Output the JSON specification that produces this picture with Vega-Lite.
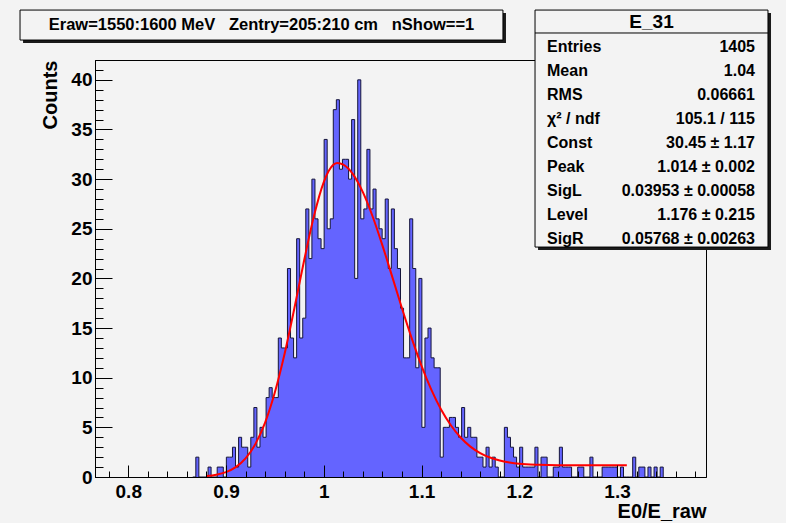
{
  "$schema": "https://vega.github.io/schema/vega-lite/v6.json",
  "width": 611,
  "height": 417,
  "autosize": {"type": "none"},
  "padding": {"left": 95, "top": 60, "right": 80, "bottom": 46},
  "background": "#f3f3f3",
  "config": {
    "font": "Liberation Sans",
    "view": {"stroke": "#000000", "strokeWidth": 1},
    "text": {"font": "Liberation Sans"}
  },
  "datasets": {
    "hist": [
      {"lo": 0.866, "n": 0}, {"lo": 0.869125, "n": 2}, {"lo": 0.87225, "n": 0}, {"lo": 0.875375, "n": 0}, {"lo": 0.8785, "n": 0},
      {"lo": 0.881625, "n": 1}, {"lo": 0.88475, "n": 0}, {"lo": 0.887875, "n": 0}, {"lo": 0.891, "n": 1}, {"lo": 0.894125, "n": 1},
      {"lo": 0.89725, "n": 0}, {"lo": 0.900375, "n": 2}, {"lo": 0.9035, "n": 2}, {"lo": 0.906625, "n": 3}, {"lo": 0.90975, "n": 1},
      {"lo": 0.912875, "n": 4}, {"lo": 0.916, "n": 3}, {"lo": 0.919125, "n": 3}, {"lo": 0.92225, "n": 1}, {"lo": 0.925375, "n": 4},
      {"lo": 0.9285, "n": 7}, {"lo": 0.931625, "n": 3}, {"lo": 0.93475, "n": 5}, {"lo": 0.937875, "n": 4}, {"lo": 0.941, "n": 8},
      {"lo": 0.944125, "n": 9}, {"lo": 0.94725, "n": 8}, {"lo": 0.950375, "n": 8}, {"lo": 0.9535, "n": 14}, {"lo": 0.956625, "n": 13},
      {"lo": 0.95975, "n": 13}, {"lo": 0.962875, "n": 21}, {"lo": 0.966, "n": 14}, {"lo": 0.969125, "n": 12}, {"lo": 0.97225, "n": 24},
      {"lo": 0.975375, "n": 14}, {"lo": 0.9785, "n": 16}, {"lo": 0.981625, "n": 27}, {"lo": 0.98475, "n": 22}, {"lo": 0.987875, "n": 30},
      {"lo": 0.991, "n": 26}, {"lo": 0.994125, "n": 24}, {"lo": 0.99725, "n": 23}, {"lo": 1.000375, "n": 34}, {"lo": 1.0035, "n": 25},
      {"lo": 1.006625, "n": 26}, {"lo": 1.00975, "n": 37}, {"lo": 1.012875, "n": 38}, {"lo": 1.016, "n": 31}, {"lo": 1.019125, "n": 32},
      {"lo": 1.02225, "n": 32}, {"lo": 1.025375, "n": 30}, {"lo": 1.0285, "n": 36}, {"lo": 1.031625, "n": 20}, {"lo": 1.03475, "n": 40},
      {"lo": 1.037875, "n": 26}, {"lo": 1.041, "n": 27}, {"lo": 1.044125, "n": 33}, {"lo": 1.04725, "n": 27}, {"lo": 1.050375, "n": 29},
      {"lo": 1.0535, "n": 26}, {"lo": 1.056625, "n": 25}, {"lo": 1.05975, "n": 24}, {"lo": 1.062875, "n": 28}, {"lo": 1.066, "n": 21},
      {"lo": 1.069125, "n": 27}, {"lo": 1.07225, "n": 23}, {"lo": 1.075375, "n": 21}, {"lo": 1.0785, "n": 17}, {"lo": 1.081625, "n": 12},
      {"lo": 1.08475, "n": 12}, {"lo": 1.087875, "n": 26}, {"lo": 1.091, "n": 21}, {"lo": 1.094125, "n": 11}, {"lo": 1.09725, "n": 20},
      {"lo": 1.100375, "n": 5}, {"lo": 1.1035, "n": 14}, {"lo": 1.106625, "n": 15}, {"lo": 1.10975, "n": 12}, {"lo": 1.112875, "n": 11},
      {"lo": 1.116, "n": 11}, {"lo": 1.119125, "n": 2}, {"lo": 1.12225, "n": 5}, {"lo": 1.125375, "n": 5}, {"lo": 1.1285, "n": 6},
      {"lo": 1.131625, "n": 6}, {"lo": 1.13475, "n": 5}, {"lo": 1.137875, "n": 4}, {"lo": 1.141, "n": 7}, {"lo": 1.144125, "n": 4},
      {"lo": 1.14725, "n": 5}, {"lo": 1.150375, "n": 4}, {"lo": 1.1535, "n": 4}, {"lo": 1.156625, "n": 2}, {"lo": 1.15975, "n": 2},
      {"lo": 1.162875, "n": 1}, {"lo": 1.166, "n": 3}, {"lo": 1.169125, "n": 1}, {"lo": 1.17225, "n": 2}, {"lo": 1.175375, "n": 1},
      {"lo": 1.1785, "n": 0}, {"lo": 1.181625, "n": 0}, {"lo": 1.18475, "n": 5}, {"lo": 1.187875, "n": 4}, {"lo": 1.191, "n": 3},
      {"lo": 1.194125, "n": 2}, {"lo": 1.19725, "n": 1}, {"lo": 1.200375, "n": 3}, {"lo": 1.2035, "n": 1}, {"lo": 1.206625, "n": 1},
      {"lo": 1.20975, "n": 1}, {"lo": 1.212875, "n": 1}, {"lo": 1.216, "n": 3}, {"lo": 1.219125, "n": 0}, {"lo": 1.22225, "n": 2},
      {"lo": 1.225375, "n": 2}, {"lo": 1.2285, "n": 0}, {"lo": 1.231625, "n": 0}, {"lo": 1.23475, "n": 1}, {"lo": 1.237875, "n": 1},
      {"lo": 1.241, "n": 3}, {"lo": 1.244125, "n": 1}, {"lo": 1.24725, "n": 1}, {"lo": 1.250375, "n": 1}, {"lo": 1.2535, "n": 0},
      {"lo": 1.256625, "n": 0}, {"lo": 1.25975, "n": 1}, {"lo": 1.262875, "n": 1}, {"lo": 1.266, "n": 0}, {"lo": 1.269125, "n": 0},
      {"lo": 1.27225, "n": 2}, {"lo": 1.275375, "n": 0}, {"lo": 1.2785, "n": 0}, {"lo": 1.281625, "n": 0}, {"lo": 1.28475, "n": 1},
      {"lo": 1.287875, "n": 1}, {"lo": 1.291, "n": 1}, {"lo": 1.294125, "n": 1}, {"lo": 1.29725, "n": 1}, {"lo": 1.300375, "n": 0},
      {"lo": 1.3035, "n": 1}, {"lo": 1.306625, "n": 0}, {"lo": 1.30975, "n": 0}, {"lo": 1.312875, "n": 0}, {"lo": 1.316, "n": 2},
      {"lo": 1.319125, "n": 0}, {"lo": 1.32225, "n": 1}, {"lo": 1.325375, "n": 1}, {"lo": 1.3285, "n": 0}, {"lo": 1.331625, "n": 1},
      {"lo": 1.33475, "n": 0}, {"lo": 1.337875, "n": 1}, {"lo": 1.341, "n": 0}, {"lo": 1.344125, "n": 1}, {"lo": 1.34725, "n": 0}
    ],
    "fit": [
      {"x": 0.88, "f": 0.10}, {"x": 0.89, "f": 0.23}, {"x": 0.90, "f": 0.49}, {"x": 0.91, "f": 0.99}, {"x": 0.92, "f": 1.87},
      {"x": 0.93, "f": 3.31}, {"x": 0.94, "f": 5.48}, {"x": 0.95, "f": 8.53}, {"x": 0.96, "f": 12.44}, {"x": 0.97, "f": 17.02},
      {"x": 0.98, "f": 21.85}, {"x": 0.99, "f": 26.30}, {"x": 1.00, "f": 29.70}, {"x": 1.005, "f": 30.82}, {"x": 1.01, "f": 31.46},
      {"x": 1.014, "f": 31.63}, {"x": 1.02, "f": 31.46}, {"x": 1.03, "f": 30.48}, {"x": 1.04, "f": 28.69}, {"x": 1.05, "f": 26.24},
      {"x": 1.06, "f": 23.33}, {"x": 1.07, "f": 20.18}, {"x": 1.08, "f": 17.00}, {"x": 1.09, "f": 13.96}, {"x": 1.10, "f": 11.20},
      {"x": 1.11, "f": 8.80}, {"x": 1.12, "f": 6.80}, {"x": 1.13, "f": 5.21}, {"x": 1.14, "f": 3.98}, {"x": 1.15, "f": 3.06},
      {"x": 1.16, "f": 2.41}, {"x": 1.17, "f": 1.96}, {"x": 1.18, "f": 1.66}, {"x": 1.19, "f": 1.47}, {"x": 1.20, "f": 1.34},
      {"x": 1.22, "f": 1.23}, {"x": 1.24, "f": 1.19}, {"x": 1.27, "f": 1.18}, {"x": 1.31, "f": 1.18}
    ],
    "stats": [
      {"label": "Entries", "value": "1405"},
      {"label": "Mean", "value": "1.04"},
      {"label": "RMS", "value": "0.06661"},
      {"label": "χ² / ndf", "value": "105.1 / 115"},
      {"label": "Const", "value": "30.45 ± 1.17"},
      {"label": "Peak", "value": "1.014 ± 0.002"},
      {"label": "SigL", "value": "0.03953 ± 0.00058"},
      {"label": "Level", "value": "1.176 ± 0.215"},
      {"label": "SigR", "value": "0.05768 ± 0.00263"}
    ]
  },
  "layer": [
    {
      "resolve": {"axis": {"x": "independent", "y": "independent"}},
      "layer": [
        {
          "data": {"name": "hist"},
          "mark": {"type": "area", "interpolate": "step-after", "color": "#6464ff"},
          "encoding": {
            "x": {
              "field": "lo", "type": "quantitative",
              "scale": {"domain": [0.766, 1.391], "nice": false, "zero": false},
              "axis": {
                "orient": "bottom",
                "title": "E0/E_raw",
                "titleAnchor": "end",
                "titleFont": "Liberation Sans", "titleFontSize": 20, "titleFontWeight": "bold", "titleColor": "#000",
                "titlePadding": 0,
                "values": [0.8, 0.9, 1.0, 1.1, 1.2, 1.3],
                "labelExpr": "format(datum.value, '.2~f')",
                "labelFont": "Liberation Sans", "labelFontSize": 19, "labelFontWeight": "bold", "labelColor": "#000",
                "labelOverlap": false, "labelFlush": false, "labelBound": false,
                "labelPadding": 17,
                "tickSize": -12,
                "tickColor": "#000", "tickWidth": 1,
                "domainColor": "#000", "domainWidth": 1,
                "grid": false, "zindex": 1
              }
            },
            "y": {
              "field": "n", "type": "quantitative",
              "scale": {"domain": [0, 42], "nice": false},
              "axis": {
                "orient": "left",
                "title": "Counts",
                "titleAnchor": "end",
                "titleFont": "Liberation Sans", "titleFontSize": 20, "titleFontWeight": "bold", "titleColor": "#000",
                "titlePadding": 10,
                "values": [0, 5, 10, 15, 20, 25, 30, 35, 40],
                "format": "d",
                "labelFont": "Liberation Sans", "labelFontSize": 19, "labelFontWeight": "bold", "labelColor": "#000",
                "labelOverlap": false, "labelFlush": false, "labelBound": false,
                "labelPadding": 20,
                "tickSize": -17,
                "tickColor": "#000", "tickWidth": 1,
                "domainColor": "#000", "domainWidth": 1,
                "grid": false, "zindex": 1
              }
            }
          }
        },
        {
          "data": {"name": "hist"},
          "mark": {"type": "line", "interpolate": "step-after", "color": "#15153a", "strokeWidth": 1},
          "encoding": {
            "x": {"field": "lo", "type": "quantitative",
                  "axis": {"orient": "bottom", "title": null, "labels": false, "domain": false, "grid": false,
                           "values": [0.78, 0.82, 0.84, 0.86, 0.88, 0.92, 0.94, 0.96, 0.98, 1.02, 1.04, 1.06, 1.08, 1.12, 1.14, 1.16, 1.18, 1.22, 1.24, 1.26, 1.28, 1.32, 1.34, 1.36, 1.38],
                           "tickSize": -6, "tickColor": "#000", "tickWidth": 1, "zindex": 1}},
            "y": {"field": "n", "type": "quantitative",
                  "axis": {"orient": "left", "title": null, "labels": false, "domain": false, "grid": false,
                           "values": [1,2,3,4,6,7,8,9,11,12,13,14,16,17,18,19,21,22,23,24,26,27,28,29,31,32,33,34,36,37,38,39,41,42],
                           "tickSize": -8, "tickColor": "#000", "tickWidth": 1, "zindex": 1}}
          }
        },
        {
          "data": {"name": "fit"},
          "mark": {"type": "line", "interpolate": "monotone", "color": "#ff0000", "strokeWidth": 2},
          "encoding": {
            "x": {"field": "x", "type": "quantitative", "axis": null},
            "y": {"field": "f", "type": "quantitative", "axis": null}
          }
        },
        {
          "data": {"values": [{}]},
          "mark": {"type": "rect", "fill": "#1a1a1a"},
          "encoding": {
            "x": {"datum": 0.6924, "axis": null}, "x2": {"datum": 1.1864},
            "y": {"datum": 46.73, "axis": null}, "y2": {"datum": 43.71}
          }
        },
        {
          "data": {"values": [{}]},
          "mark": {"type": "rect", "fill": "#f3f3f3", "stroke": "#000", "strokeWidth": 1},
          "encoding": {
            "x": {"datum": 0.6893, "axis": null}, "x2": {"datum": 1.1833},
            "y": {"datum": 47.03, "axis": null}, "y2": {"datum": 44.01}
          }
        },
        {
          "data": {"values": [{}]},
          "mark": {"type": "text", "font": "Liberation Sans", "fontWeight": "bold", "fontSize": 16.5, "align": "center", "baseline": "middle", "color": "#000"},
          "encoding": {
            "x": {"datum": 0.9363, "axis": null}, "y": {"datum": 45.52, "axis": null},
            "text": {"value": "Eraw=1550:1600 MeV\u00a0\u00a0\u00a0Zentry=205:210 cm\u00a0\u00a0\u00a0nShow==1"}
          }
        },
        {
          "data": {"values": [{}]},
          "mark": {"type": "rect", "fill": "#1a1a1a"},
          "encoding": {
            "x": {"datum": 1.2192, "axis": null}, "x2": {"datum": 1.4575},
            "y": {"datum": 46.73, "axis": null}, "y2": {"datum": 22.86}
          }
        },
        {
          "data": {"values": [{}]},
          "mark": {"type": "rect", "fill": "#f3f3f3", "stroke": "#000", "strokeWidth": 1},
          "encoding": {
            "x": {"datum": 1.2161, "axis": null}, "x2": {"datum": 1.4544},
            "y": {"datum": 47.03, "axis": null}, "y2": {"datum": 23.16}
          }
        },
        {
          "data": {"values": [{}]},
          "mark": {"type": "rule", "color": "#000", "strokeWidth": 1},
          "encoding": {
            "x": {"datum": 1.2161, "axis": null}, "x2": {"datum": 1.4544},
            "y": {"datum": 44.72, "axis": null}
          }
        },
        {
          "data": {"values": [{}]},
          "mark": {"type": "text", "font": "Liberation Sans", "fontWeight": "bold", "fontSize": 19, "align": "center", "baseline": "middle", "color": "#000"},
          "encoding": {
            "x": {"datum": 1.3353, "axis": null}, "y": {"datum": 45.83, "axis": null},
            "text": {"value": "E_31"}
          }
        }
      ]
    },
    {
      "data": {"name": "stats"},
      "layer": [
        {
          "mark": {"type": "text", "font": "Liberation Sans", "fontWeight": "bold", "fontSize": 16, "align": "left", "baseline": "middle", "color": "#000"},
          "encoding": {
            "x": {"datum": 1.2284, "axis": null},
            "y": {"field": "label", "type": "ordinal", "sort": null,
                  "scale": {"type": "point", "domain": ["Entries", "Mean", "RMS", "χ² / ndf", "Const", "Peak", "SigL", "Level", "SigR"], "range": [-13, 179], "padding": 0},
                  "axis": null},
            "text": {"field": "label"}
          }
        },
        {
          "mark": {"type": "text", "font": "Liberation Sans", "fontWeight": "bold", "fontSize": 16, "align": "right", "baseline": "middle", "color": "#000"},
          "encoding": {
            "x": {"datum": 1.4411, "axis": null},
            "y": {"field": "label", "type": "ordinal", "sort": null, "axis": null},
            "text": {"field": "value"}
          }
        }
      ]
    }
  ],
  "resolve": {"scale": {"y": "independent"}}
}
